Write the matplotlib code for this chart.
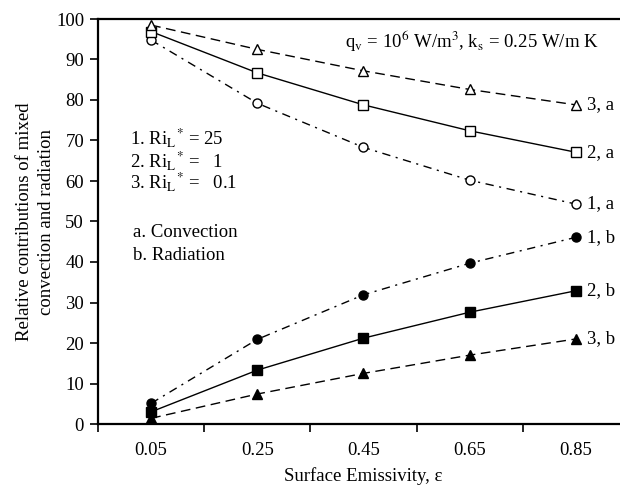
import matplotlib
matplotlib.use('Agg')
import matplotlib.pyplot as plt

plt.rcParams['font.family'] = ['Liberation Serif', 'DejaVu Serif']
plt.rcParams['mathtext.fontset'] = 'stix'

# Datos
eps = [0.05, 0.25, 0.45, 0.65, 0.85]
conv_1 = [94.8, 79.2, 68.3, 60.2, 54.3]
conv_2 = [96.9, 86.7, 78.8, 72.4, 67.1]
conv_3 = [98.5, 92.5, 87.2, 82.6, 78.8]
rad_1 = [5.1, 20.9, 31.9, 39.7, 46.1]
rad_2 = [3.0, 13.3, 21.2, 27.6, 32.9]
rad_3 = [1.4, 7.4, 12.5, 17.0, 21.0]
end_labels = ['1, a', '2, a', '3, a', '1, b', '2, b', '3, b']

fs = 13.5

fig = plt.figure(figsize=(6.2, 4.86), dpi=100)
ax = fig.add_axes([98/620, 1-424/486, 531/620, 405/486])

dashdot = (0, (6, 4, 1.5, 4))
dashed = (0, (7, 4))
kw = dict(color='black', lw=1.0, markersize=6.5, markeredgewidth=1.0)

ax.plot(eps, conv_1, linestyle=dashdot, marker='o', markerfacecolor='white', **kw)
ax.plot(eps, conv_2, linestyle='-', marker='s', markerfacecolor='white', **kw)
ax.plot(eps, conv_3, linestyle=dashed, marker='^', markerfacecolor='white', **kw)
ax.plot(eps, rad_1, linestyle=dashdot, marker='o', markerfacecolor='black', **kw)
ax.plot(eps, rad_2, linestyle='-', marker='s', markerfacecolor='black', **kw)
ax.plot(eps, rad_3, linestyle=dashed, marker='^', markerfacecolor='black', **kw)

# Etiquetas al final de cada curva
for lab, ser in zip(end_labels, [conv_1, conv_2, conv_3, rad_1, rad_2, rad_3]):
    ax.annotate(lab, (eps[-1], ser[-1]), xytext=(8, 0), textcoords='offset points',
                va='center', ha='left', fontsize=fs)

ax.set_xlim(-0.05, 0.95)
ax.set_ylim(0, 100)
ax.set_xticks([-0.05, 0.15, 0.35, 0.55, 0.75, 0.95])
ax.set_xticklabels([])
ax.set_xticks(eps, minor=True)
ax.set_xticklabels(['0.05', '0.25', '0.45', '0.65', '0.85'], minor=True)
ax.tick_params(axis='x', which='minor', length=0, pad=13, labelsize=fs)
ax.tick_params(axis='x', which='major', length=6, width=1.2, direction='out')
ax.set_yticks(range(0, 101, 10))
ax.tick_params(axis='y', length=6, width=1.2, direction='out', labelsize=fs, pad=4)

for s in ['left', 'bottom', 'top']:
    ax.spines[s].set_linewidth(1.6)
ax.spines['right'].set_visible(False)

ax.set_xlabel('Surface Emissivity, ε', fontsize=fs, labelpad=6)
ax.set_ylabel('Relative contributions of mixed\nconvection and radiation', fontsize=fs,
              labelpad=1, linespacing=1.35)

ax.text(0.465, 0.946, r'q$_\mathrm{v}$ = 10$^6$ W/m$^3$, k$_\mathrm{s}$ = 0.25 W/m K',
        transform=ax.transAxes, fontsize=fs, va='center')

ax.text(0.06, 0.707, r'1. Ri$_\mathrm{L}$$^{*}$ = 25', transform=ax.transAxes, fontsize=fs, va='center')
ax.text(0.06, 0.650, r'2. Ri$_\mathrm{L}$$^{*}$ =   1', transform=ax.transAxes, fontsize=fs, va='center')
ax.text(0.06, 0.598, r'3. Ri$_\mathrm{L}$$^{*}$ =   0.1', transform=ax.transAxes, fontsize=fs, va='center')
ax.text(0.066, 0.474, 'a. Convection', transform=ax.transAxes, fontsize=fs, va='center')
ax.text(0.066, 0.417, 'b. Radiation', transform=ax.transAxes, fontsize=fs, va='center')

fig.savefig('out.png', dpi=100)
